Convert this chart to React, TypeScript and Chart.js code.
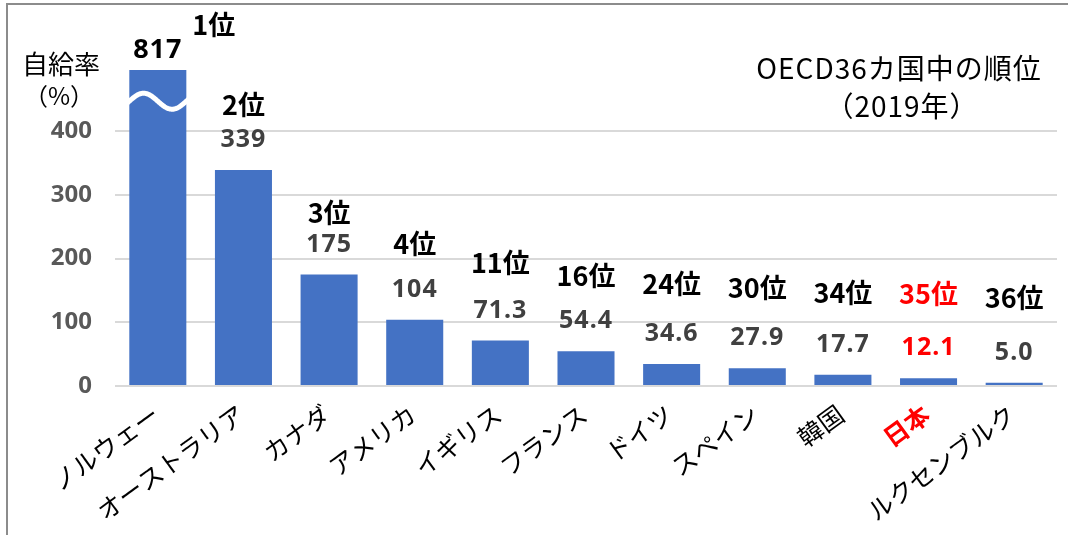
import React, { useEffect, useRef } from "react";
import { Chart, registerables } from "chart.js";

Chart.register(...registerables);

// ---- data ----
const COUNTRIES = [
  "ノルウェー",
  "オーストラリア",
  "カナダ",
  "アメリカ",
  "イギリス",
  "フランス",
  "ドイツ",
  "スペイン",
  "韓国",
  "日本",
  "ルクセンブルク",
];
const SELF_SUFFICIENCY = [817, 339, 175, 104, 71.3, 54.4, 34.6, 27.9, 17.7, 12.1, 5.0];
const RANKS = [1, 2, 3, 4, 11, 16, 24, 30, 34, 35, 36];
const Y_TICKS = [0, 100, 200, 300, 400];
const HIGHLIGHT = "日本";

// ---- axis / layout constants ----
const Y_AXIS_MAX = 496; // values above are cut off with a break mark
const BREAK_AT = 447; // where the wavy break is drawn on a cut bar
const RANK_GAP = [0, 35, 32, 46, 48, 46, 50, 50, 52, 55, 55]; // px between value label and rank label

const BAR_COLOR = "#4472C4";
const RED = "#FF0000";
const JP = '"Noto Sans CJK JP", "Noto Sans", sans-serif';
const NUM = '"Noto Sans", "Noto Sans CJK JP", sans-serif';

const fmt = (v: number) => (v >= 100 ? v.toFixed(0) : v.toFixed(1));

const annotationPlugin = {
  id: "annotations",
  afterDatasetsDraw(chart: any) {
    const ctx: CanvasRenderingContext2D = chart.ctx;
    const meta = chart.getDatasetMeta(0);
    const yScale = chart.scales.y;
    const area = chart.chartArea;
    ctx.save();
    meta.data.forEach((bar: any, i: number) => {
      const v = SELF_SUFFICIENCY[i];
      const { x, y, width } = bar.getProps(["x", "y", "width"], true);
      const clipped = v > yScale.max;
      const top = Math.max(y, area.top);
      const isHi = COUNTRIES[i] === HIGHLIGHT;

      if (clipped) {
        const yc = yScale.getPixelForValue(BREAK_AT);
        const left = x - width / 2;
        ctx.beginPath();
        for (let px = left - 2; px <= left + width + 2; px += 0.5) {
          const py = yc - 8 * Math.sin((2 * Math.PI * (px - left)) / width);
          if (px === left - 2) ctx.moveTo(px, py);
          else ctx.lineTo(px, py);
        }
        ctx.strokeStyle = "#FFFFFF";
        ctx.lineWidth = 5;
        ctx.lineCap = "round";
        ctx.stroke();
      }

      // value label
      const vy = clipped ? top - 20 : top - 30;
      ctx.textAlign = "center";
      ctx.textBaseline = "middle";
      ctx.font = `bold ${clipped ? 27 : 25}px ${NUM}`;
      (ctx as any).letterSpacing = "1px";
      ctx.fillStyle = isHi ? RED : clipped ? "#000000" : "#404040";
      ctx.fillText(fmt(v), x, vy);

      // rank label
      (ctx as any).letterSpacing = "0px";
      ctx.font = `bold 27px ${JP}`;
      ctx.fillStyle = isHi ? RED : "#000000";
      const rx = clipped ? x + 56 : x;
      const ry = clipped ? top - 45 : vy - RANK_GAP[i];
      ctx.fillText(`${RANKS[i]}位`, rx, ry);
    });

    // axis title and note
    ctx.textAlign = "center";
    ctx.textBaseline = "middle";
    ctx.fillStyle = "#000000";
    ctx.font = `26px ${JP}`;
    ctx.fillText("自給率", 61, 64);
    ctx.font = `24px ${JP}`;
    ctx.fillText("（%）", 59, 96);
    ctx.font = `28px ${JP}`;
    (ctx as any).letterSpacing = "1px";
    ctx.fillText("OECD36カ国中の順位", 899, 68);
    ctx.fillText("（2019年）", 902, 106);
    ctx.restore();
  },
};

export default function App() {
  const ref = useRef<HTMLCanvasElement | null>(null);
  useEffect(() => {
    if (!ref.current) return;
    const chart = new Chart(ref.current, {
      type: "bar",
      data: {
        labels: COUNTRIES,
        datasets: [
          {
            data: SELF_SUFFICIENCY,
            backgroundColor: BAR_COLOR,
            categoryPercentage: 1,
            barPercentage: 0.666,
          },
        ],
      },
      options: {
        animation: false,
        responsive: false,
        layout: { padding: { top: 70, right: 11, left: 0, bottom: 0 } },
        plugins: { legend: { display: false }, tooltip: { enabled: false } },
        scales: {
          x: {
            grid: { display: false },
            border: { display: false },
            afterFit: (s: any) => {
              s.height = 149;
            },
            ticks: {
              autoSkip: false,
              minRotation: 36,
              maxRotation: 36,
              padding: 5,
              labelOffset: -2,
              font: (c: any) => ({
                family: JP,
                size: 25,
                weight: COUNTRIES[c.index] === HIGHLIGHT ? "bold" : "normal",
              }),
              color: (c: any) => (COUNTRIES[c.index] === HIGHLIGHT ? RED : "#000000"),
            },
          },
          y: {
            min: 0,
            max: Y_AXIS_MAX,
            afterBuildTicks: (s: any) => {
              s.ticks = Y_TICKS.map((v) => ({ value: v }));
            },
            afterFit: (s: any) => {
              s.width = 115;
            },
            grid: { color: "#D9D9D9", lineWidth: 2, drawTicks: false },
            border: { display: false },
            ticks: {
              padding: 23,
              color: "#595959",
              font: { family: NUM, size: 24, weight: "bold" },
            },
          },
        },
      },
      plugins: [annotationPlugin],
    });
    return () => chart.destroy();
  }, []);

  return (
    <div
      style={{
        position: "fixed",
        left: 0,
        top: 0,
        width: 1068,
        height: 535,
        overflow: "hidden",
        background: "#FFFFFF",
      }}
    >
      <div
        style={{
          position: "absolute",
          left: 6,
          top: 3,
          width: 1200,
          height: 700,
          borderLeft: "2px solid #8C8C8C",
          borderTop: "2px solid #8C8C8C",
        }}
      />
      <canvas
        ref={ref}
        width={1068}
        height={535}
        style={{ position: "absolute", left: 0, top: 0 }}
      />
    </div>
  );
}
